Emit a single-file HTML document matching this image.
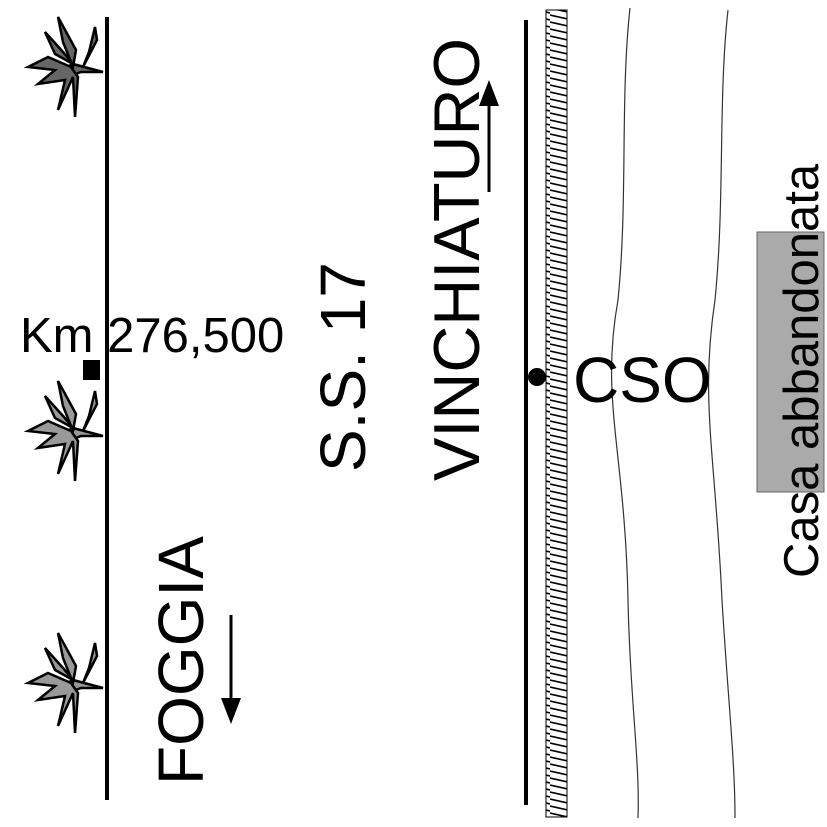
<!DOCTYPE html>
<html><head><style>body{margin:0;background:#fff}svg{display:block}</style></head><body>
<svg width="827" height="827" viewBox="0 0 827 827" xmlns="http://www.w3.org/2000/svg" font-family="Liberation Sans, sans-serif">
<defs>
<pattern id="h" width="22" height="7" patternUnits="userSpaceOnUse"><line x1="0" y1="1" x2="22" y2="6" stroke="#000" stroke-width="1.6"/></pattern>
<g id="plant" stroke="#000" stroke-width="2.5">
<path d="M0 0 L-30 -8 L-42 -2 L-35 5 L-22 0 Z"/>
<path d="M-30 -5 L-40 -30 L-45 -55 L-27 -22 Z"/>
<path d="M-30 -8 L-48 -18 L-58 -40 L-40 -20 Z"/>
<path d="M-32 -5 L-55 -15 L-75 -5 L-48 -2 L-65 12 L-38 8 L-45 38 L-30 5 L-28 45 L-25 5 Z"/>
<path d="M-20 -5 L-6 -32 L-8 -45 L-14 -20 Z"/>
</g>
</defs>
<line x1="107" y1="17" x2="107" y2="800" stroke="#000" stroke-width="4"/>
<line x1="526" y1="20" x2="526" y2="805" stroke="#000" stroke-width="4"/>
<rect x="546" y="10" width="21" height="807" fill="url(#h)" stroke="#000" stroke-width="1"/>
<path d="M630 8 C620 100 628 200 618 300 C600 400 625 450 628 600 C630 700 640 760 638 818" fill="none" stroke="#333" stroke-width="1.2"/>
<path d="M728 10 C718 100 725 200 715 300 C700 400 715 450 722 600 C728 700 735 760 735 818" fill="none" stroke="#333" stroke-width="1.2"/>
<use href="#plant" x="103" y="72" fill="#666"/>
<use href="#plant" x="103" y="436" fill="#999"/>
<use href="#plant" x="103" y="688" fill="#999"/>
<rect x="83" y="360" width="17" height="20" fill="#000"/>
<text x="20" y="352" font-size="49">Km 276,500</text>
<circle cx="537" cy="377" r="9" fill="#000"/>
<text x="573" y="402" font-size="64">CSO</text>
<rect x="757" y="232" width="67" height="260" fill="#aaa" stroke="#666"/>
<text transform="translate(818,578) rotate(-90)" font-size="49">Casa abbandonata</text>
<text transform="translate(203,785) rotate(-90)" font-size="64">FOGGIA</text>
<text transform="translate(365,472) rotate(-90)" font-size="64">S.S. 17</text>
<text transform="translate(479,481) rotate(-90)" font-size="65">VINCHIATURO</text>
<line x1="231" y1="615" x2="231" y2="700" stroke="#000" stroke-width="3"/>
<path d="M221 698 L241 698 L231 724 Z"/>
<line x1="489" y1="192" x2="489" y2="105" stroke="#000" stroke-width="3"/>
<path d="M479 106 L499 106 L489 80 Z"/>
</svg>
</body></html>
